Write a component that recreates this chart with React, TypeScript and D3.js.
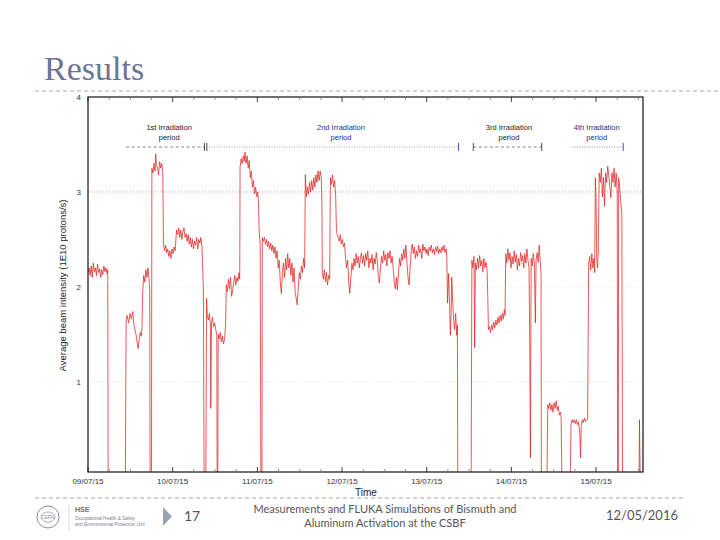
import React from "react";
import * as d3 from "d3";

// ---- data (hours since 09/07/15 00:00, beam intensity in 1E10 protons/s) ----
const segA: [number, number][] = [
  [0, 2.15], [0.3, 2.2], [0.6, 2.12], [0.9, 2.22], [1.2, 2.1], [1.5, 2.25], [1.8, 2.16], [2.1, 2.2], [2.4, 2.12],
  [2.7, 2.24], [3.0, 2.15], [3.3, 2.19], [3.6, 2.1], [3.9, 2.18], [4.2, 2.13], [4.5, 2.22], [4.8, 2.16], [5.1, 2.2],
  [5.4, 2.14], [5.6, 2.18], [5.7, 0], [10.6, 0],
  [10.8, 1.65], [11.1, 1.7], [11.5, 1.62], [11.9, 1.72], [12.3, 1.66], [12.7, 1.74], [13.0, 1.6], [13.3, 1.55],
  [13.6, 1.5], [13.9, 1.42], [14.2, 1.35], [14.5, 1.45], [14.8, 1.52], [15.1, 1.48], [15.3, 1.56], [15.5, 1.95],
  [15.8, 2.12], [16.1, 2.05], [16.4, 2.18], [16.7, 2.1], [17.0, 2.2], [17.3, 2.08], [17.5, 1.95], [17.6, 0], [18.0, 0],
];
const segB: [number, number][] = [
  [18.1, 3.25], [18.4, 3.2], [18.7, 3.3], [19.0, 3.22], [19.2, 3.4], [19.4, 3.28], [19.7, 3.25], [20.0, 3.18],
  [20.3, 3.32], [20.6, 3.25], [20.9, 3.3], [21.2, 3.2],
  [21.4, 2.45], [21.7, 2.38], [22.0, 2.44], [22.3, 2.36], [22.6, 2.4], [22.9, 2.32], [23.2, 2.38], [23.5, 2.3],
  [23.8, 2.4], [24.1, 2.35], [24.4, 2.42], [24.7, 2.38],
  [25.1, 2.6], [25.4, 2.55], [25.7, 2.62], [26.0, 2.52], [26.3, 2.6], [26.6, 2.5], [26.9, 2.58], [27.2, 2.62],
  [27.5, 2.52], [27.8, 2.56], [28.1, 2.48], [28.4, 2.55], [28.7, 2.45], [29.0, 2.52], [29.3, 2.42], [29.6, 2.5],
  [29.9, 2.4], [30.2, 2.48], [30.5, 2.44], [30.8, 2.52], [31.1, 2.4], [31.4, 2.5], [31.7, 2.46], [32.0, 2.52],
  [32.3, 2.42], [32.5, 2.2], [32.7, 2.0], [32.9, 0], [33.4, 0],
];
const segC: [number, number][] = [
  [33.6, 1.88], [33.8, 1.7], [34.1, 1.65], [34.4, 1.72], [34.7, 1.6], [34.8, 0.72], [35.0, 1.62], [35.3, 1.68],
  [35.6, 1.58], [35.9, 1.62], [36.2, 1.55], [36.5, 1.5], [36.6, 0], [36.8, 0], [36.9, 1.5], [37.2, 1.45],
  [37.5, 1.52], [37.8, 1.42], [38.1, 1.48], [38.4, 1.4], [38.7, 1.45], [39.0, 1.6], [39.2, 2.02], [39.5, 1.95],
  [39.8, 2.08], [40.1, 1.98], [40.4, 2.1], [40.7, 1.9], [41.0, 1.96], [41.3, 2.05], [41.6, 2.12], [41.9, 2.02],
  [42.2, 2.1], [42.5, 2.06], [42.8, 2.15], [43.0, 2.08],
  [43.1, 3.26], [43.4, 3.35], [43.7, 3.3], [44.0, 3.38], [44.3, 3.32], [44.5, 3.42], [44.8, 3.3], [45.1, 3.38],
  [45.4, 3.25], [45.7, 3.33], [46.0, 3.15], [46.3, 3.22], [46.6, 3.05], [46.9, 3.12], [47.2, 2.98], [47.5, 3.05],
  [47.8, 2.95], [48.1, 3.0], [48.3, 2.92], [48.5, 2.6], [48.8, 2.45], [49.0, 0], [49.3, 0],
];
const segD: [number, number][] = [
  [49.4, 2.52], [49.7, 2.48], [50.0, 2.52], [50.3, 2.45], [50.6, 2.5], [50.9, 2.42], [51.2, 2.48], [51.5, 2.4],
  [51.8, 2.46], [52.1, 2.38], [52.4, 2.44], [52.7, 2.35], [53.0, 2.42], [53.3, 2.3], [53.6, 2.38], [53.9, 2.2],
  [54.2, 2.28], [54.5, 2.05], [54.8, 1.93], [55.1, 2.15], [55.4, 2.25], [55.7, 2.1], [56.0, 2.3], [56.3, 2.18],
  [56.6, 2.35], [56.9, 2.2], [57.2, 2.3], [57.5, 2.12], [57.8, 2.25], [58.1, 2.05], [58.4, 2.2], [58.7, 1.95],
  [59.0, 1.88], [59.3, 1.81], [59.6, 2.0], [59.9, 2.15], [60.2, 2.08], [60.5, 2.22], [60.8, 2.15], [61.1, 2.3],
  [61.4, 2.2],
  [61.6, 3.18], [61.9, 2.95], [62.2, 3.05], [62.5, 2.98], [62.8, 3.1], [63.1, 3.0], [63.4, 3.12], [63.7, 3.02],
  [64.0, 3.15], [64.3, 3.05], [64.6, 3.18], [64.9, 3.1], [65.2, 3.22], [65.5, 3.12], [65.8, 3.22], [66.1, 3.15],
  [66.3, 2.9], [66.4, 2.15], [66.7, 2.08], [67.0, 2.18], [67.3, 2.05], [67.6, 2.15], [67.9, 2.02], [68.2, 2.12],
  [68.5, 2.08], [68.7, 3.15], [69.0, 3.08], [69.3, 3.18], [69.6, 3.05], [69.9, 3.12], [70.2, 2.95], [70.4, 2.62],
  [70.6, 2.55],
];
const segE: [number, number][] = [
  [70.9, 2.52], [71.2, 2.48], [71.5, 2.55], [71.8, 2.45], [72.1, 2.5], [72.4, 2.42], [72.7, 2.46], [73.0, 2.3],
  [73.3, 2.2], [73.6, 2.28], [73.9, 2.05], [74.2, 1.93], [74.5, 2.1], [74.8, 2.25], [75.1, 2.18], [75.4, 2.3],
  [75.7, 2.22], [76.0, 2.35], [76.3, 2.25], [76.6, 2.32], [76.9, 2.2], [77.2, 2.3], [77.5, 2.36], [77.8, 2.25],
  [78.1, 2.33], [78.4, 2.22], [78.7, 2.35], [79.0, 2.28], [79.3, 2.38], [79.6, 2.2], [79.9, 2.3], [80.2, 2.25],
  [80.5, 2.34], [80.8, 2.18], [81.1, 2.3], [81.4, 2.24], [81.7, 2.36], [82.0, 2.27], [82.3, 2.1], [82.6, 2.04],
  [82.9, 2.2], [83.2, 2.32], [83.5, 2.25], [83.8, 2.38], [84.1, 2.28], [84.4, 2.34], [84.7, 2.22], [85.0, 2.36],
  [85.3, 2.3], [85.6, 2.38], [85.9, 2.25], [86.2, 2.32], [86.5, 2.2], [86.8, 2.05], [87.1, 1.98], [87.4, 2.1],
  [87.7, 1.97], [88.0, 2.15], [88.3, 2.3], [88.6, 2.22], [88.9, 2.35], [89.2, 2.28], [89.5, 2.4], [89.8, 2.3],
  [90.1, 2.44], [90.4, 2.25], [90.7, 2.1], [91.0, 2.02], [91.3, 2.2], [91.6, 2.38], [91.9, 2.45], [92.2, 2.35],
  [92.5, 2.42], [92.8, 2.3], [93.1, 2.38], [93.4, 2.32], [93.7, 2.44], [94.0, 2.36], [94.3, 2.4], [94.6, 2.3],
  [94.9, 2.45], [95.2, 2.38], [95.5, 2.42], [95.8, 2.35], [96.1, 2.4], [96.4, 2.33], [96.7, 2.42], [97.0, 2.38],
  [97.3, 2.44], [97.6, 2.36], [97.9, 2.4], [98.2, 2.34], [98.5, 2.42], [98.8, 2.37], [99.1, 2.43], [99.4, 2.35],
  [99.7, 2.4], [100.0, 2.36], [100.3, 2.42], [100.6, 2.38], [100.9, 2.44], [101.2, 2.36], [101.5, 2.4],
  [101.7, 2.3], [101.9, 1.83], [102.2, 2.14], [102.5, 1.8], [102.7, 1.49], [102.9, 1.7], [103.1, 2.1], [103.3, 1.9],
  [103.6, 1.67], [103.9, 1.55], [104.2, 1.72], [104.5, 1.49], [104.7, 1.6], [104.8, 0], [108.6, 0],
];
const segF: [number, number][] = [
  [108.8, 2.28], [109.1, 2.2], [109.4, 2.32], [109.6, 1.36], [109.8, 2.25], [110.1, 2.18], [110.4, 2.3],
  [110.7, 2.2], [111.0, 2.33], [111.3, 2.22], [111.6, 2.28], [111.9, 2.16], [112.2, 2.3], [112.5, 2.2],
  [112.8, 2.26], [113.1, 2.18], [113.3, 1.9], [113.5, 1.55],
  [113.8, 1.58], [114.1, 1.52], [114.4, 1.6], [114.7, 1.55], [115.0, 1.63], [115.3, 1.57], [115.6, 1.65],
  [115.9, 1.6], [116.2, 1.68], [116.5, 1.62], [116.8, 1.7], [117.1, 1.64], [117.4, 1.72], [117.7, 1.66],
  [118.0, 1.76], [118.2, 1.7],
  [118.4, 2.35], [118.7, 2.25], [119.0, 2.4], [119.3, 2.28], [119.6, 2.36], [119.9, 2.2], [120.2, 2.32],
  [120.5, 2.24], [120.8, 2.38], [121.1, 2.26], [121.4, 2.34], [121.7, 2.18], [122.0, 2.3], [122.3, 2.22],
  [122.6, 2.36], [122.9, 2.27], [123.2, 2.33], [123.5, 2.2], [123.8, 2.35], [124.1, 2.25], [124.4, 2.4],
  [124.7, 2.28], [125.0, 2.2], [125.2, 1.4], [125.4, 0.2], [125.6, 2.3], [125.9, 2.22], [126.2, 2.35],
  [126.5, 2.25], [126.8, 1.62], [127.0, 2.28], [127.3, 2.36], [127.6, 2.26], [127.9, 2.44], [128.1, 2.3],
  [128.4, 2.15], [128.5, 0], [130.1, 0],
];
const segG: [number, number][] = [
  [130.3, 0.76], [130.6, 0.72], [130.9, 0.78], [131.2, 0.7], [131.5, 0.76], [131.8, 0.68], [132.1, 0.78],
  [132.4, 0.72], [132.7, 0.8], [133.0, 0.7], [133.3, 0.74], [133.6, 0.65], [133.9, 0.68], [134.1, 0.62],
  [134.3, 0], [136.7, 0],
  [136.9, 0.55], [137.2, 0.6], [137.5, 0.57], [137.8, 0.6], [138.1, 0.56], [138.4, 0.6], [138.7, 0.55],
  [139.0, 0.58], [139.4, 0.45], [139.6, 0.2], [139.8, 0.55], [140.1, 0.6], [140.4, 0.57], [140.7, 0.62],
  [141.0, 0.58], [141.3, 0.6], [141.6, 0.6],
];
const segH: [number, number][] = [
  [141.9, 2.25], [142.2, 2.32], [142.5, 2.18], [142.8, 2.35], [143.1, 2.2], [143.4, 2.3], [143.6, 2.15],
  [143.8, 3.15], [144.0, 2.9], [144.2, 2.3], [144.4, 2.2], [144.6, 2.35], [144.9, 3.2], [145.2, 3.1],
  [145.5, 3.25], [145.8, 2.95], [146.1, 3.15], [146.4, 2.85], [146.7, 3.2], [147.0, 3.1], [147.3, 3.27],
  [147.6, 3.18], [147.9, 3.05], [148.2, 2.94], [148.5, 3.2], [148.8, 3.1], [149.1, 3.25], [149.4, 3.05],
  [149.7, 3.2], [150.0, 3.0], [150.1, 0], [150.3, 0], [150.4, 3.15], [150.7, 3.05], [151.0, 2.9],
  [151.3, 2.76], [151.5, 0], [156.2, 0], [156.3, 0.6], [156.5, 0],
];
const beamData = [...segA, ...segB, ...segC, ...segD, ...segE, ...segF, ...segG, ...segH];

const dayLabels = ["09/07/15", "10/07/15", "11/07/15", "12/07/15", "13/07/15", "14/07/15", "15/07/15"];
const yTicks = [1, 2, 3, 4];
const timeEnd = 157.3; // hours shown on axis

const periods = [
  { line1: "1st Irradiation", line2: "period", start: 10.8, end: 33.0, labelAt: 23.0, color: "#222", lineColor: "#666", dash: "3,2.5", startBar: false, endBar: true, doubleBar: true },
  { line1: "2nd Irradiation", line2: "period", start: 34.3, end: 105.0, labelAt: 71.7, color: "#2a2a9c", lineColor: "#8a8aa8", dash: "1,1.5", startBar: false, endBar: true, doubleBar: false },
  { line1: "3rd Irradiation", line2: "period", start: 109.2, end: 128.6, labelAt: 119.3, color: "#222", lineColor: "#666", dash: "3,2.5", startBar: true, endBar: true, doubleBar: false },
  { line1: "4th Irradiation", line2: "period", start: 137.1, end: 151.7, labelAt: 144.2, color: "#2a2a9c", lineColor: "#6a6aa8", dash: "1,1.5", startBar: false, endBar: true, doubleBar: false },
];

export default function App() {
  const left = 88, right = 643, top = 97, bottom = 472;
  const x = d3.scaleLinear().domain([0, timeEnd]).range([left, right]);
  const y = d3.scaleLinear().domain([0.05, 4]).range([bottom, top]);
  const line = d3.line<[number, number]>().x((d) => x(d[0])).y((d) => y(d[1]));
  const minorTicks = d3.range(0, timeEnd, 6);
  const dayTicks = dayLabels.map((_, i) => i * 24);
  const annY = 147;
  const font = "'Liberation Sans', Arial, sans-serif";

  return (
    <svg width={720} height={540} style={{ position: "absolute", left: 0, top: 0, background: "#fff" }}>
      <rect x={0} y={0} width={720} height={540} fill="#fff" />
      {/* Title */}
      <text x={44} y={80} fontFamily="'Liberation Serif', 'DejaVu Serif', serif" fontSize={34} fill="#6c7396">Results</text>
      <line x1={35} x2={720} y1={91} y2={91} stroke="#a8a8a8" strokeDasharray="4,3" strokeWidth={1} />

      {/* grid */}
      {[1, 2, 3].map((v) => (
        <line key={v} x1={left} x2={right} y1={y(v)} y2={y(v)} stroke={v === 3 ? "#999" : "#dddddd"} strokeDasharray="1,2" strokeWidth={0.8} />
      ))}

      {/* data */}
      <defs>
        <clipPath id="plotClip">
          <rect x={left} y={top} width={right - left} height={bottom - top} />
        </clipPath>
      </defs>
      <path d={line(beamData) || ""} fill="none" stroke="#e22222" strokeWidth={0.75} strokeLinejoin="round" clipPath="url(#plotClip)" />

      {/* frame */}
      <rect x={left} y={top} width={right - left} height={bottom - top} fill="none" stroke="#111" strokeWidth={1.2} />

      {/* ticks */}
      {minorTicks.map((t) => {
        const major = t % 24 === 0;
        const len = major ? 5 : 3;
        return (
          <g key={t}>
            <line x1={x(t)} x2={x(t)} y1={top} y2={top + len} stroke={major ? "#111" : "#777"} strokeWidth={0.8} />
            <line x1={x(t)} x2={x(t)} y1={bottom} y2={bottom - len} stroke={major ? "#111" : "#777"} strokeWidth={0.8} />
          </g>
        );
      })}
      {dayTicks.map((t, i) => (
        <text key={t} x={x(t)} y={484} textAnchor="middle" fontFamily={font} fontSize={8} fill="#333">{dayLabels[i]}</text>
      ))}
      {yTicks.map((v) => (
        <text key={v} x={81} y={y(v) + 3} textAnchor="end" fontFamily={font} fontSize={8} fill="#333">{v}</text>
      ))}
      <text x={366} y={496} textAnchor="middle" fontFamily={font} fontSize={10} fill="#222">Time</text>
      <text transform={`translate(66,${(top + bottom) / 2 + 1}) rotate(-90)`} textAnchor="middle" fontFamily={font} fontSize={9.5} fill="#222">
        Average beam intensity (1E10 protons/s)
      </text>

      {/* irradiation periods */}
      {periods.map((p) => (
        <g key={p.line1}>
          <text x={x(p.labelAt)} y={130} textAnchor="middle" fontFamily={font} fontSize={7.5} fill={p.color}>{p.line1}</text>
          <text x={x(p.labelAt)} y={140} textAnchor="middle" fontFamily={font} fontSize={7.5} fill={p.color}>{p.line2}</text>
          <line x1={x(p.start)} x2={x(p.end)} y1={annY} y2={annY} stroke={p.lineColor} strokeDasharray={p.dash} strokeWidth={0.8} />
          {p.startBar && <line x1={x(p.start)} x2={x(p.start)} y1={annY - 4} y2={annY + 4} stroke={p.color} strokeWidth={0.8} />}
          {p.endBar && <line x1={x(p.end)} x2={x(p.end)} y1={annY - 4} y2={annY + 4} stroke={p.color} strokeWidth={0.8} />}
          {p.doubleBar && <line x1={x(p.end) + 2.4} x2={x(p.end) + 2.4} y1={annY - 4} y2={annY + 4} stroke={p.color} strokeWidth={0.8} />}
        </g>
      ))}

      {/* footer */}
      <line x1={35} x2={686} y1={498} y2={498} stroke="#a8a8a8" strokeDasharray="4,3" strokeWidth={1} />
      <circle cx={48} cy={517} r={11} fill="none" stroke="#8a8f9c" strokeWidth={1} />
      <ellipse cx={48} cy={517} rx={7} ry={5} fill="none" stroke="#8a8f9c" strokeWidth={0.7} />
      <text x={48} y={519} textAnchor="middle" fontFamily={font} fontSize={4.5} fill="#8a8f9c">CERN</text>
      <line x1={69} x2={69} y1={505} y2={530} stroke="#ccc" strokeWidth={0.8} />
      <text x={75} y={512} fontFamily={font} fontSize={7} fontWeight="bold" fill="#6a7080">HSE</text>
      <text x={75} y={520} fontFamily={font} fontSize={4.6} fill="#7a8090">Occupational Health &amp; Safety</text>
      <text x={75} y={526} fontFamily={font} fontSize={4.6} fill="#7a8090">and Environmental Protection Unit</text>
      <polygon points="163,507 172,516.5 163,526" fill="#9aa3b5" />
      <text x={184} y={521} fontFamily="Lato, 'Open Sans', sans-serif" fontSize={14} fill="#555">17</text>
      <text x={385} y={513} textAnchor="middle" fontFamily="Lato, 'Open Sans', sans-serif" fontSize={11} fill="#555">Measurements and FLUKA Simulations of Bismuth and</text>
      <text x={385} y={527} textAnchor="middle" fontFamily="Lato, 'Open Sans', sans-serif" fontSize={11} fill="#555">Aluminum Activation at the CSBF</text>
      <text x={678} y={520} textAnchor="end" fontFamily="Lato, 'Open Sans', sans-serif" fontSize={13} fill="#555">12/05/2016</text>
    </svg>
  );
}
